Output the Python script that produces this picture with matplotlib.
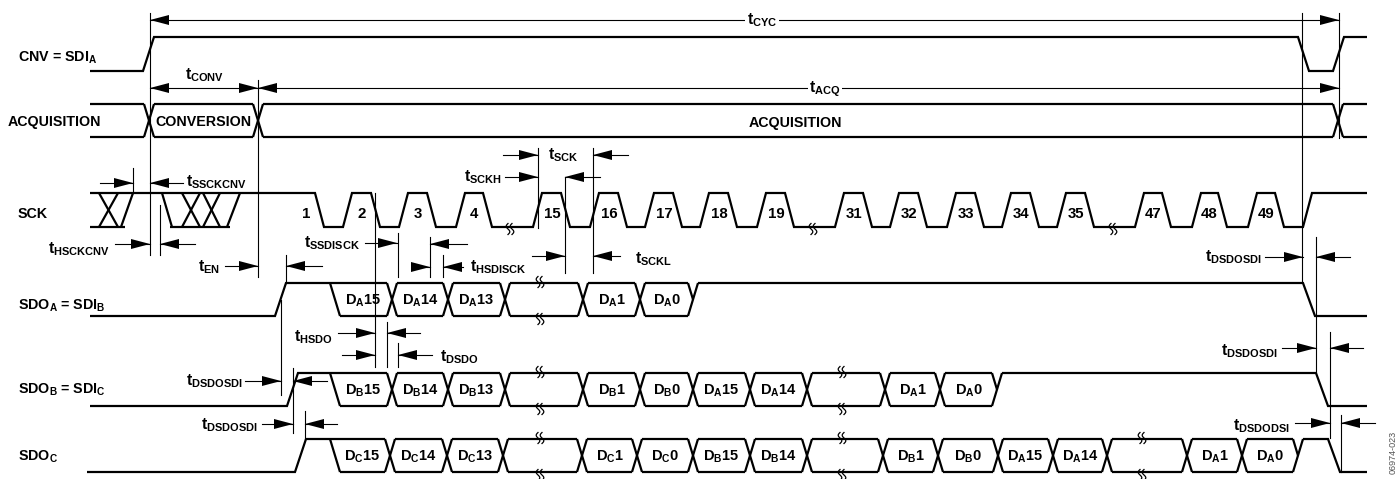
import numpy as np
import matplotlib.pyplot as plt

plt.rcParams['font.family'] = ['Liberation Sans', 'DejaVu Sans']
plt.rcParams['font.weight'] = 'bold'
plt.rcParams['mathtext.fontset'] = 'custom'
plt.rcParams['mathtext.rm'] = 'Liberation Sans:bold'
plt.rcParams['mathtext.it'] = 'Liberation Sans:bold'
plt.rcParams['mathtext.bf'] = 'Liberation Sans:bold'

# ---- signal names (label, baseline y)
row_names = ['CNV = SDI$_A$', 'ACQUISITION', 'SCK',
             'SDO$_A$ = SDI$_B$', 'SDO$_B$ = SDI$_C$', 'SDO$_C$']
row_name_y = [62, 126, 218, 310, 394, 461]

# ---- CNV edges (x of edge start)
cnv_rise = [143, 1333]
cnv_fall = [1298]

# ---- acquisition / conversion phases
phase_edges = [144, 253, 1333]
phase_labels = ['CONVERSION', 'ACQUISITION']

# ---- SCK clock
clk_nums = [1, 2, 3, 4, 15, 16, 17, 18, 19, 31, 32, 33, 34, 35, 47, 48, 49]
sck_fall = [315, 371, 427, 483, 561, 618, 673, 728, 785, 863, 918, 975, 1030,
            1085, 1162, 1218, 1275]
sck_rise = [343, 399, 456, 533, 590, 645, 700, 757, 835, 890, 947, 1002, 1057,
            1135, 1192, 1248, 1303]
sck_breaks = [510, 813, 1113]

# ---- serial data buses
sdo_a_cells = [r'$D_A15$', r'$D_A14$', r'$D_A13$', '', r'$D_A1$', r'$D_A0$']
sdo_a_edges = [330, 387, 443, 500, 578, 635, 688]
sdo_b_cells = [r'$D_B15$', r'$D_B14$', r'$D_B13$', '', r'$D_B1$', r'$D_B0$',
               r'$D_A15$', r'$D_A14$', '', r'$D_A1$', r'$D_A0$']
sdo_b_edges = [330, 387, 443, 500, 578, 635, 688, 745, 802, 880, 935, 992]
sdo_c_cells = [r'$D_C15$', r'$D_C14$', r'$D_C13$', '', r'$D_C1$', r'$D_C0$',
               r'$D_B15$', r'$D_B14$', '', r'$D_B1$', r'$D_B0$',
               r'$D_A15$', r'$D_A14$', '', r'$D_A1$', r'$D_A0$']
sdo_c_edges = [330, 385, 442, 498, 577, 632, 688, 745, 802, 878, 933, 993,
               1048, 1102, 1182, 1237, 1293]

LW_SIG = 1.6
LW_THIN = 0.8
FS_NAME = 10.3
FS_T = 11.3
FS_CELL = 10.5
FS_CLK = 10.8

fig = plt.figure(figsize=(14, 4.79), dpi=100)
ax = fig.add_axes([0, 0, 1, 1])
ax.set_xlim(0, 1400)
ax.set_ylim(479, 0)
ax.axis('off')


def sig(xs, ys):
    ax.plot(xs, ys, color='k', lw=LW_SIG, solid_joinstyle='miter',
            solid_capstyle='butt')


def thin(xs, ys):
    ax.plot(xs, ys, color='k', lw=LW_THIN)


def head(x, y, d, L=19, h=5):
    ax.fill([x, x - d * L, x - d * L], [y, y - h, y + h], color='k', lw=0)


def arrow(y, hx, tx):
    thin([tx, hx], [y, y])
    head(hx, y, 1 if hx > tx else -1)


def squiggle(cx, cy, hgt=11):
    t = np.linspace(-1, 1, 30)
    for off in (-2, 2):
        ax.plot(cx + off + 1.8 * np.sin(np.pi * t), cy + t * hgt / 2,
                color='k', lw=0.9)


def tlabel(x, y, s, ha='left', bg=False):
    kw = dict(fontsize=FS_T, ha=ha, va='baseline')
    if bg:
        kw['bbox'] = dict(facecolor='white', edgecolor='none', pad=1)
    ax.text(x, y, s, **kw)


# ---- row names
for name, y in zip(row_names, row_name_y):
    ax.text(8 if name == 'ACQUISITION' else 18, y, name, fontsize=FS_NAME,
            fontweight='bold', va='baseline')

# ---- CNV
cnv_hi, cnv_lo, w = 37, 71, 11
sig([90, cnv_rise[0], cnv_rise[0] + w, cnv_fall[0], cnv_fall[0] + w,
     cnv_rise[1], cnv_rise[1] + w, 1367],
    [cnv_lo, cnv_lo, cnv_hi, cnv_hi, cnv_lo, cnv_lo, cnv_hi, cnv_hi])

# ---- ACQUISITION phases
ph_t, ph_b = 104, 137
pts = [90] + phase_edges + [1367]
for i in range(len(pts) - 1):
    x0 = pts[i] + (10 if i > 0 else 0)
    x1 = pts[i + 1]
    sig([x0, x1], [ph_t, ph_t])
    sig([x0, x1], [ph_b, ph_b])
for e in phase_edges:
    sig([e, e + 10], [ph_t, ph_b])
    sig([e, e + 10], [ph_b, ph_t])
ax.text((phase_edges[0] + 10 + phase_edges[1]) / 2, 126, phase_labels[0],
        fontsize=FS_NAME, ha='center', va='baseline')
ax.text(795, 127, phase_labels[1], fontsize=FS_NAME, ha='center',
        va='baseline')

# ---- SCK
s_hi, s_lo, cw = 193, 227, 9
xs, ys = [90], [s_hi]
for f, r in zip(sck_fall, sck_rise):
    xs += [f, f + cw, r, r + cw]
    ys += [s_hi, s_lo, s_lo, s_hi]
xs.append(1367)
ys.append(s_hi)
sig(xs, ys)
# don't-care region before conversion
for a, b in [(90, 125), (170, 230)]:
    sig([a, b], [s_lo, s_lo])
for a, b, kind in [(99, 118, 'x'), (121, 133, '/'), (162, 172, '\\'),
                   (182, 200, 'x'), (203, 220, 'x'), (227, 240, '/')]:
    if kind in ('x', '\\'):
        sig([a, b], [s_hi, s_lo])
    if kind in ('x', '/'):
        sig([a, b], [s_lo, s_hi])
for n, f in zip(clk_nums, sck_fall):
    ax.text(f - 9, 218, str(n), fontsize=FS_CLK, ha='center', va='baseline')
for b in sck_breaks:
    squiggle(b, s_lo + 2)


# ---- buses
def bus(top, bot, x_start, rise, edges, cells, fall, breaks):
    mid = (top + bot) / 2
    w = 10
    sig([x_start, rise, rise + 11, edges[0]], [bot, bot, top, top])
    sig([edges[0], edges[0] + w], [top, bot])
    for e in edges[1:-1]:
        sig([e, e + w], [top, bot])
        sig([e, e + w], [bot, top])
    for i, lab in enumerate(cells):
        x0 = edges[i] + w
        x1 = edges[i + 1]
        sig([edges[i] if i == 0 else x0, x1], [top, top])
        sig([x0, x1], [bot, bot])
        if lab:
            ax.text((x0 + x1) / 2, mid + 5, lab, fontsize=FS_CELL,
                    ha='center', va='baseline')
    e = edges[-1]
    sig([e, e + w], [bot, top])
    sig([e, e + w / 2], [top, mid])
    sig([e + w, fall, fall + 12, 1367], [top, top, bot, bot])
    for b in breaks:
        squiggle(b, top - 1)
        squiggle(b, bot + 3)


bus(283, 316, 90, 275, sdo_a_edges, sdo_a_cells, 1303, [540])
bus(373, 406, 90, 287, sdo_b_edges, sdo_b_cells, 1316, [540, 842])
bus(439, 472, 87, 295, sdo_c_edges, sdo_c_cells, 1328, [540, 842, 1142])

# ---- guide lines
for x, y0, y1 in [(150, 13, 255), (258, 80, 277), (1302, 13, 282),
                  (1339, 13, 138), (133, 168, 193), (160, 205, 255),
                  (286, 255, 283), (281, 300, 395), (293, 368, 433),
                  (305, 411, 439), (375, 193, 367), (398, 233, 277),
                  (430, 237, 277), (443, 255, 277), (538, 148, 228),
                  (593, 148, 273), (565, 177, 273), (387, 322, 367),
                  (398, 343, 367), (1316, 237, 372), (1330, 332, 438),
                  (1341, 415, 472)]:
    thin([x, x], [y0, y1])

# ---- cycle / conversion / acquisition spans
arrow(20, 150, 1339)
head(1339, 20, 1)
tlabel(762, 24, r'$t_{CYC}$', ha='center', bg=True)
arrow(88, 150, 258)
head(258, 88, 1)
tlabel(185, 79, r'$t_{CONV}$')
arrow(88, 258, 1339)
head(1339, 88, 1)
tlabel(825, 92, r'$t_{ACQ}$', ha='center', bg=True)

# ---- timing arrows (y, head, tail)
for y, hx, tx in [(183, 133, 100), (183, 150, 183),
                  (244, 150, 115), (244, 160, 195),
                  (266, 258, 225), (266, 286, 322),
                  (243, 397, 365), (244, 430, 467),
                  (267, 430, 412), (267, 443, 463),
                  (177, 538, 505), (177, 565, 600),
                  (155, 538, 503), (155, 593, 628),
                  (256, 565, 532), (256, 593, 620),
                  (333, 375, 338), (333, 387, 420),
                  (355, 375, 342), (355, 398, 432),
                  (381, 281, 245), (381, 293, 327),
                  (424, 293, 262), (424, 305, 337),
                  (257, 1303, 1265), (257, 1316, 1350),
                  (348, 1316, 1282), (348, 1330, 1363),
                  (423, 1330, 1295), (423, 1341, 1375)]:
    arrow(y, hx, tx)

# ---- timing labels
for x, y, s, ha in [(186, 186, r'$t_{SSCKCNV}$', 'left'),
                    (110, 253, r'$t_{HSCKCNV}$', 'right'),
                    (220, 271, r'$t_{EN}$', 'right'),
                    (360, 247, r'$t_{SSDISCK}$', 'right'),
                    (470, 271, r'$t_{HSDISCK}$', 'left'),
                    (502, 181, r'$t_{SCKH}$', 'right'),
                    (548, 159, r'$t_{SCK}$', 'left'),
                    (635, 263, r'$t_{SCKL}$', 'left'),
                    (333, 341, r'$t_{HSDO}$', 'right'),
                    (440, 361, r'$t_{DSDO}$', 'left'),
                    (243, 385, r'$t_{DSDOSDI}$', 'right'),
                    (258, 429, r'$t_{DSDOSDI}$', 'right'),
                    (1262, 261, r'$t_{DSDOSDI}$', 'right'),
                    (1278, 355, r'$t_{DSDOSDI}$', 'right'),
                    (1290, 430, r'$t_{DSDODSI}$', 'right')]:
    tlabel(x, y, s, ha=ha)

ax.text(1393, 452, '06974-023', fontsize=6.5, rotation=90, ha='center',
        va='center', color='#555555', fontweight='normal')

fig.savefig('out.png', dpi=100)
